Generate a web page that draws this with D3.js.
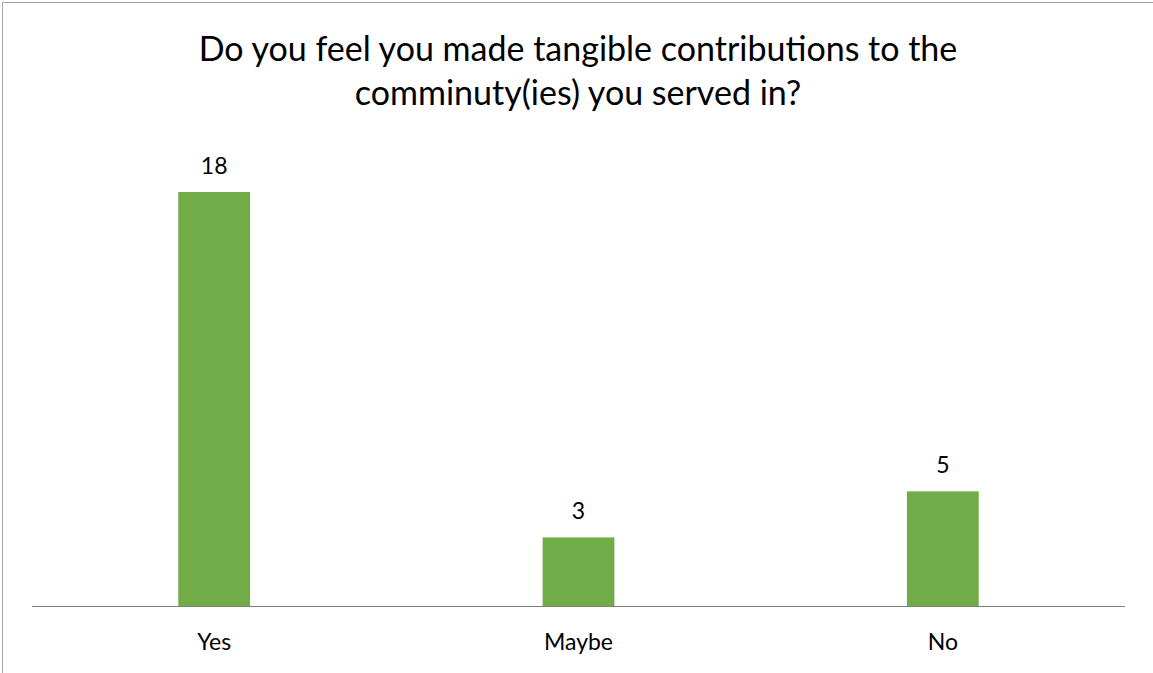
<!DOCTYPE html>
<html>
<head>
<meta charset="utf-8">
<script src="https://cdn.jsdelivr.net/npm/d3@7"></script>
<style>
  body { margin: 0; background: #fff; }
  text { font-family: Lato, "Open Sans", sans-serif; fill: #000; }
</style>
</head>
<body>
<div id="chart"></div>
<script>
  // chart data
  var categories = ['Yes', 'Maybe', 'No'];
  var counts = [18, 3, 5];
  var titleLines = ['Do you feel you made tangible contributions to the', 'comminuty(ies) you served in?'];

  var width = 1153;
  var height = 673;

  // plot area (note: "top" is reserved on window, so plotTop)
  var plotLeft = 32, plotRight = 1125, plotTop = 192, baseline = 606.5;

  var svg = d3.select('#chart')
    .append('svg')
    .attr('width', width)
    .attr('height', height);

  // outer border
  svg.append('rect')
    .attr('x', 2.5)
    .attr('y', 2.5)
    .attr('width', width + 10)
    .attr('height', height + 10)
    .attr('fill', '#fff')
    .attr('stroke', '#a6a6a6')
    .attr('stroke-width', 1);

  var x = d3.scaleBand()
    .domain(categories)
    .range([plotLeft, plotRight])
    .padding(0);

  var y = d3.scaleLinear()
    .domain([0, 18])
    .range([baseline, plotTop]);

  var barW = x.bandwidth() * 0.197;

  svg.selectAll('rect.bar')
    .data(counts)
    .enter()
    .append('rect')
    .attr('class', 'bar')
    .attr('x', function(d, i) { return x(categories[i]) + x.bandwidth() / 2 - barW / 2; })
    .attr('y', function(d) { return y(d); })
    .attr('width', barW)
    .attr('height', function(d) { return y(0) - y(d); })
    .attr('fill', '#70ad47');

  // value labels
  svg.selectAll('text.val')
    .data(counts)
    .enter()
    .append('text')
    .attr('class', 'val')
    .attr('x', function(d, i) { return x(categories[i]) + x.bandwidth() / 2; })
    .attr('y', function(d) { return y(d) - 18.5; })
    .attr('text-anchor', 'middle')
    .attr('font-size', 23)
    .text(function(d) { return d; });

  // baseline
  svg.append('line')
    .attr('x1', plotLeft)
    .attr('x2', plotRight)
    .attr('y1', baseline)
    .attr('y2', baseline)
    .attr('stroke', '#7f7f7f')
    .attr('stroke-width', 1);

  // category labels
  svg.selectAll('text.cat')
    .data(categories)
    .enter()
    .append('text')
    .attr('class', 'cat')
    .attr('x', function(d) { return x(d) + x.bandwidth() / 2; })
    .attr('y', 650)
    .attr('text-anchor', 'middle')
    .attr('font-size', 23)
    .text(function(d) { return d; });

  // title
  svg.selectAll('text.title')
    .data(titleLines)
    .enter()
    .append('text')
    .attr('class', 'title')
    .attr('x', 578)
    .attr('y', function(d, i) { return 61 + i * 44; })
    .attr('text-anchor', 'middle')
    .attr('font-size', 34)
    .text(function(d) { return d; });
</script>
</body>
</html>
